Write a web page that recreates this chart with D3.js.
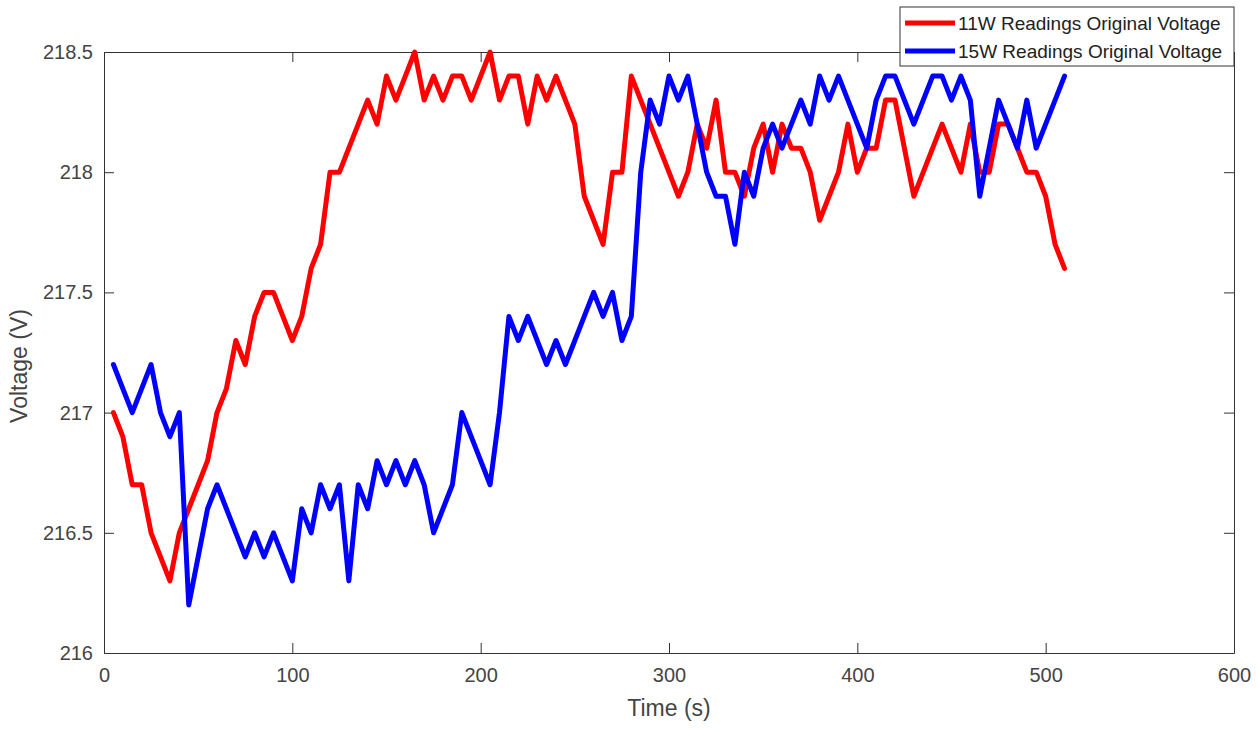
<!DOCTYPE html>
<html>
<head>
<meta charset="utf-8">
<script src="https://cdn.jsdelivr.net/npm/d3@7"></script>
<style>
  body { margin: 0; background: #fff; }
  svg { display: block; font-family: "Liberation Sans", Arial, sans-serif; }
</style>
</head>
<body>
<div id="chart"></div>
<script>
// sample times (s)
const times = [5,10,15,20,25,30,35,40,45,50,55,60,65,70,75,80,85,90,95,100,
  105,110,115,120,125,130,135,140,145,150,155,160,165,170,175,180,185,190,195,200,
  205,210,215,220,225,230,235,240,245,250,255,260,265,270,275,280,285,290,295,300,
  305,310,315,320,325,330,335,340,345,350,355,360,365,370,375,380,385,390,395,400,
  405,410,415,420,425,430,435,440,445,450,455,460,465,470,475,480,485,490,495,500,
  505,510];

// 11W readings original voltage
const volt11W = [217.0,216.9,216.7,216.7,216.5,216.4,216.3,216.5,216.6,216.7,
  216.8,217.0,217.1,217.3,217.2,217.4,217.5,217.5,217.4,217.3,
  217.4,217.6,217.7,218.0,218.0,218.1,218.2,218.3,218.2,218.4,
  218.3,218.4,218.5,218.3,218.4,218.3,218.4,218.4,218.3,218.4,
  218.5,218.3,218.4,218.4,218.2,218.4,218.3,218.4,218.3,218.2,
  217.9,217.8,217.7,218.0,218.0,218.4,218.3,218.2,218.1,218.0,
  217.9,218.0,218.2,218.1,218.3,218.0,218.0,217.9,218.1,218.2,
  218.0,218.2,218.1,218.1,218.0,217.8,217.9,218.0,218.2,218.0,
  218.1,218.1,218.3,218.3,218.1,217.9,218.0,218.1,218.2,218.1,
  218.0,218.2,218.0,218.0,218.2,218.2,218.1,218.0,218.0,217.9,
  217.7,217.6];

// 15W readings original voltage
const volt15W = [217.2,217.1,217.0,217.1,217.2,217.0,216.9,217.0,216.2,216.4,
  216.6,216.7,216.6,216.5,216.4,216.5,216.4,216.5,216.4,216.3,
  216.6,216.5,216.7,216.6,216.7,216.3,216.7,216.6,216.8,216.7,
  216.8,216.7,216.8,216.7,216.5,216.6,216.7,217.0,216.9,216.8,
  216.7,217.0,217.4,217.3,217.4,217.3,217.2,217.3,217.2,217.3,
  217.4,217.5,217.4,217.5,217.3,217.4,218.0,218.3,218.2,218.4,
  218.3,218.4,218.2,218.0,217.9,217.9,217.7,218.0,217.9,218.1,
  218.2,218.1,218.2,218.3,218.2,218.4,218.3,218.4,218.3,218.2,
  218.1,218.3,218.4,218.4,218.3,218.2,218.3,218.4,218.4,218.3,
  218.4,218.3,217.9,218.1,218.3,218.2,218.1,218.3,218.1,218.2,
  218.3,218.4];

const xTicks = [0,100,200,300,400,500,600];
const yTicks = [216,216.5,217,217.5,218,218.5];
const seriesNames = ["11W Readings Original Voltage", "15W Readings Original Voltage"];
const seriesColors = ["#ff0000", "#0000ff"];

const W = 1259, H = 729;
const margin = {top: 52, right: 25, bottom: 76, left: 104};
const width = W - margin.left - margin.right,
  height = H - margin.top - margin.bottom;

const svg = d3.select("#chart").append("svg")
  .attr("width", W)
  .attr("height", H);

const g = svg.append("g")
  .attr("transform", `translate(${margin.left},${margin.top})`);

const x = d3.scaleLinear().domain([0, 600]).range([0, width]);
const y = d3.scaleLinear().domain([216, 218.5]).range([height, 0]);

const axisColor = "#333";
const labelColor = "#444";

// axes, ticks pointing inward
const xAxisG = g.append("g")
  .attr("transform", `translate(0,${height})`)
  .call(d3.axisBottom(x).tickValues(xTicks).tickSizeInner(-10).tickSizeOuter(0).tickPadding(15).tickFormat(d => d));
const yAxisG = g.append("g")
  .call(d3.axisLeft(y).tickValues(yTicks).tickSizeInner(-10).tickSizeOuter(0).tickPadding(11).tickFormat(d => String(d)));
const xTopG = g.append("g")
  .call(d3.axisTop(x).tickValues(xTicks).tickSizeInner(-10).tickSizeOuter(0).tickFormat(""));
const yRightG = g.append("g")
  .attr("transform", `translate(${width},0)`)
  .call(d3.axisRight(y).tickValues(yTicks).tickSizeInner(-10).tickSizeOuter(0).tickFormat(""));

[xAxisG, yAxisG, xTopG, yRightG].forEach(a => {
  a.selectAll("path, line").attr("stroke", axisColor).attr("stroke-width", 1);
  a.selectAll("text").attr("fill", labelColor).style("font-size", "20px")
    .attr("font-family", "'Liberation Sans', Arial, sans-serif");
});

// lines
const line = d3.line()
  .x((d, i) => x(times[i]))
  .y(d => y(d));

[volt11W, volt15W].forEach((vals, k) => {
  g.append("path")
    .datum(vals)
    .attr("fill", "none")
    .attr("stroke", seriesColors[k])
    .attr("stroke-width", 5)
    .attr("stroke-linejoin", "round")
    .attr("stroke-linecap", "round")
    .attr("d", line);
});

// axis titles
svg.append("text")
  .attr("x", margin.left + width / 2)
  .attr("y", 716)
  .attr("text-anchor", "middle")
  .attr("fill", labelColor)
  .style("font-size", "23px")
  .text("Time (s)");

svg.append("text")
  .attr("transform", `translate(27,366) rotate(-90)`)
  .attr("text-anchor", "middle")
  .attr("fill", labelColor)
  .style("font-size", "23px")
  .text("Voltage (V)");

// legend
const legend = svg.append("g").attr("transform", "translate(900,7)");
legend.append("rect")
  .attr("width", margin.left + width - 900)
  .attr("height", 59)
  .attr("fill", "#fff")
  .attr("stroke", axisColor)
  .attr("stroke-width", 1);

const items = legend.selectAll("g.item").data(seriesNames)
  .join("g")
  .attr("class", "item")
  .attr("transform", (d, i) => `translate(0,${16 + i * 28})`);
items.append("line")
  .attr("x1", 5).attr("x2", 55)
  .attr("stroke", (d, i) => seriesColors[i])
  .attr("stroke-width", 5);
items.append("text")
  .attr("x", 58)
  .attr("dy", "0.35em")
  .attr("fill", "#222")
  .style("font-size", "19px")
  .text(d => d);
</script>
</body>
</html>
